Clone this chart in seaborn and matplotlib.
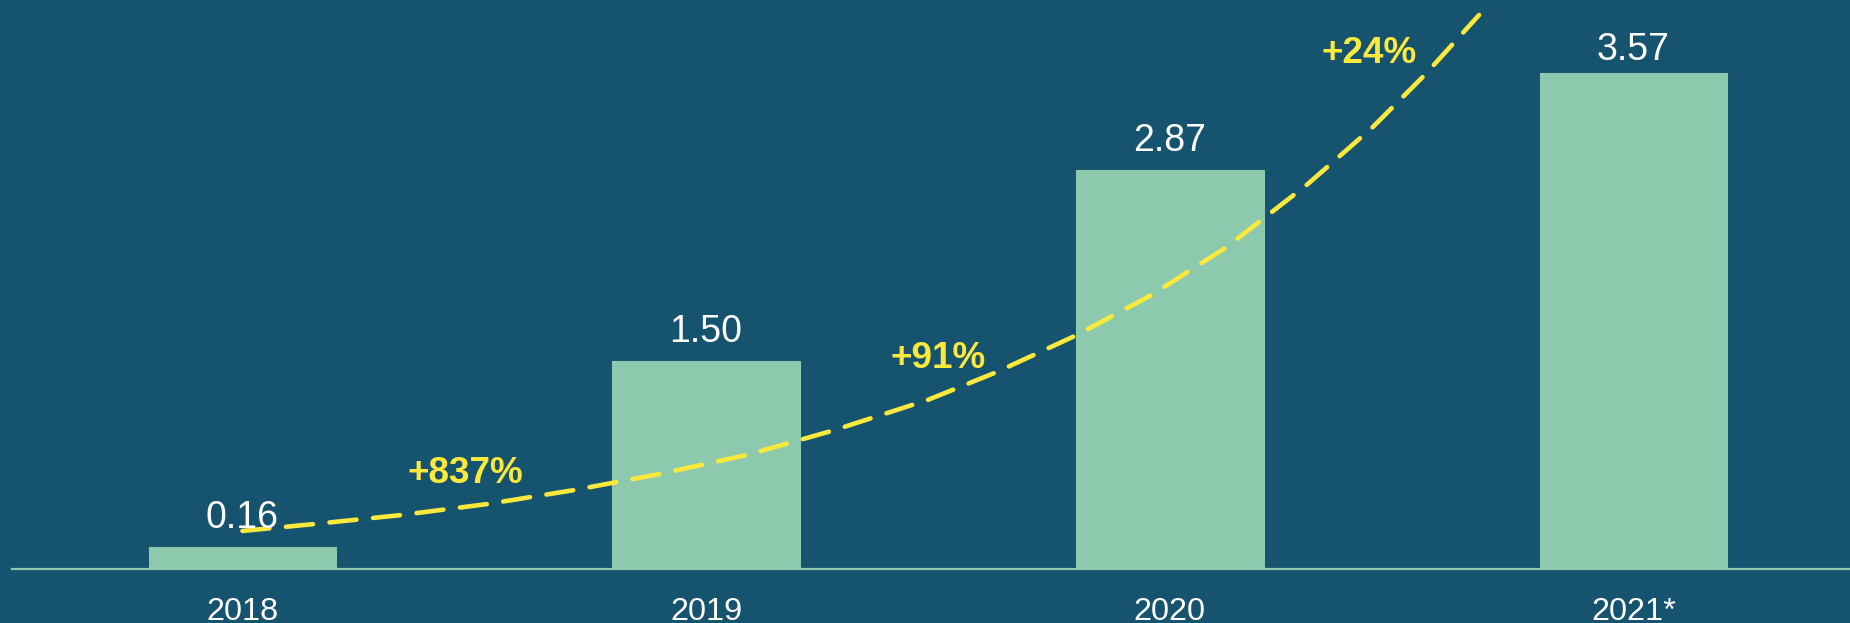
import matplotlib
matplotlib.use("Agg")
import matplotlib.pyplot as plt
import seaborn as sns
import pandas as pd

# ---- data ----
years = ["2018", "2019", "2020", "2021*"]
values = [0.16, 1.50, 2.87, 3.57]
value_labels = ["0.16", "1.50", "2.87", "3.57"]

growth_labels = ["+837%", "+91%", "+24%"]
growth_x = [0.48, 1.50, 2.43]
growth_y = [0.62, 1.45, 3.64]

# trend curve points (x in category units, y in value units)
trend_x = [0.000, 0.156, 0.344, 0.529, 0.717, 0.900, 1.088, 1.271, 1.478,
           1.627, 1.800, 1.961, 2.123, 2.298, 2.438, 2.550, 2.667]
trend_y = [0.274, 0.324, 0.389, 0.468, 0.569, 0.684, 0.821, 0.994, 1.217,
           1.418, 1.685, 1.973, 2.318, 2.772, 3.182, 3.557, 3.988]

# ---- style ----
BG = "#15536f"
BAR = "#8cc9ad"
YELLOW = "#fde93b"

sns.set_theme(style="white")
plt.rcParams["font.family"] = ["Liberation Sans", "DejaVu Sans"]
plt.rcParams["lines.scale_dashes"] = False

fig = plt.figure(figsize=(18.5, 6.23), dpi=100, facecolor=BG)
ax = fig.add_axes([12 / 1850, 54 / 623, 1 - 12 / 1850, 569 / 623])
ax.set_facecolor(BG)

df = pd.DataFrame({"year": years, "value": values})
sns.barplot(data=df, x="year", y="value", color=BAR, saturation=1,
            width=0.405, ax=ax, zorder=2, edgecolor=BAR, linewidth=0.8)

ax.set_xlim(-0.497, 3.467)
ax.set_ylim(0, 4.096)

# value labels
for i, (v, lab) in enumerate(zip(values, value_labels)):
    ly = min(v + 0.137, 3.665)
    ax.text(i, ly, lab, ha="center", va="baseline", color="white",
            fontsize=27, zorder=4)

# trend line
ax.plot(trend_x, trend_y, color=YELLOW, lw=3.3, dashes=(19.5, 12.0),
        dash_capstyle="round", solid_capstyle="round", zorder=3,
        clip_on=False)

for gx, gy, gl in zip(growth_x, growth_y, growth_labels):
    ax.text(gx, gy, gl, ha="center", va="baseline", color=YELLOW,
            fontsize=26.6, fontweight="bold", zorder=4)

# axes styling
for s in ["top", "right", "left"]:
    ax.spines[s].set_visible(False)
ax.spines["bottom"].set_color(BAR)
ax.spines["bottom"].set_linewidth(1.6)
ax.spines["bottom"].set_zorder(5)
ax.set_yticks([])
ax.set_xlabel("")
ax.set_ylabel("")
ax.tick_params(axis="x", length=0, pad=20, labelsize=23.3, labelcolor="white")

fig.savefig("out.png", dpi=100, facecolor=BG)
